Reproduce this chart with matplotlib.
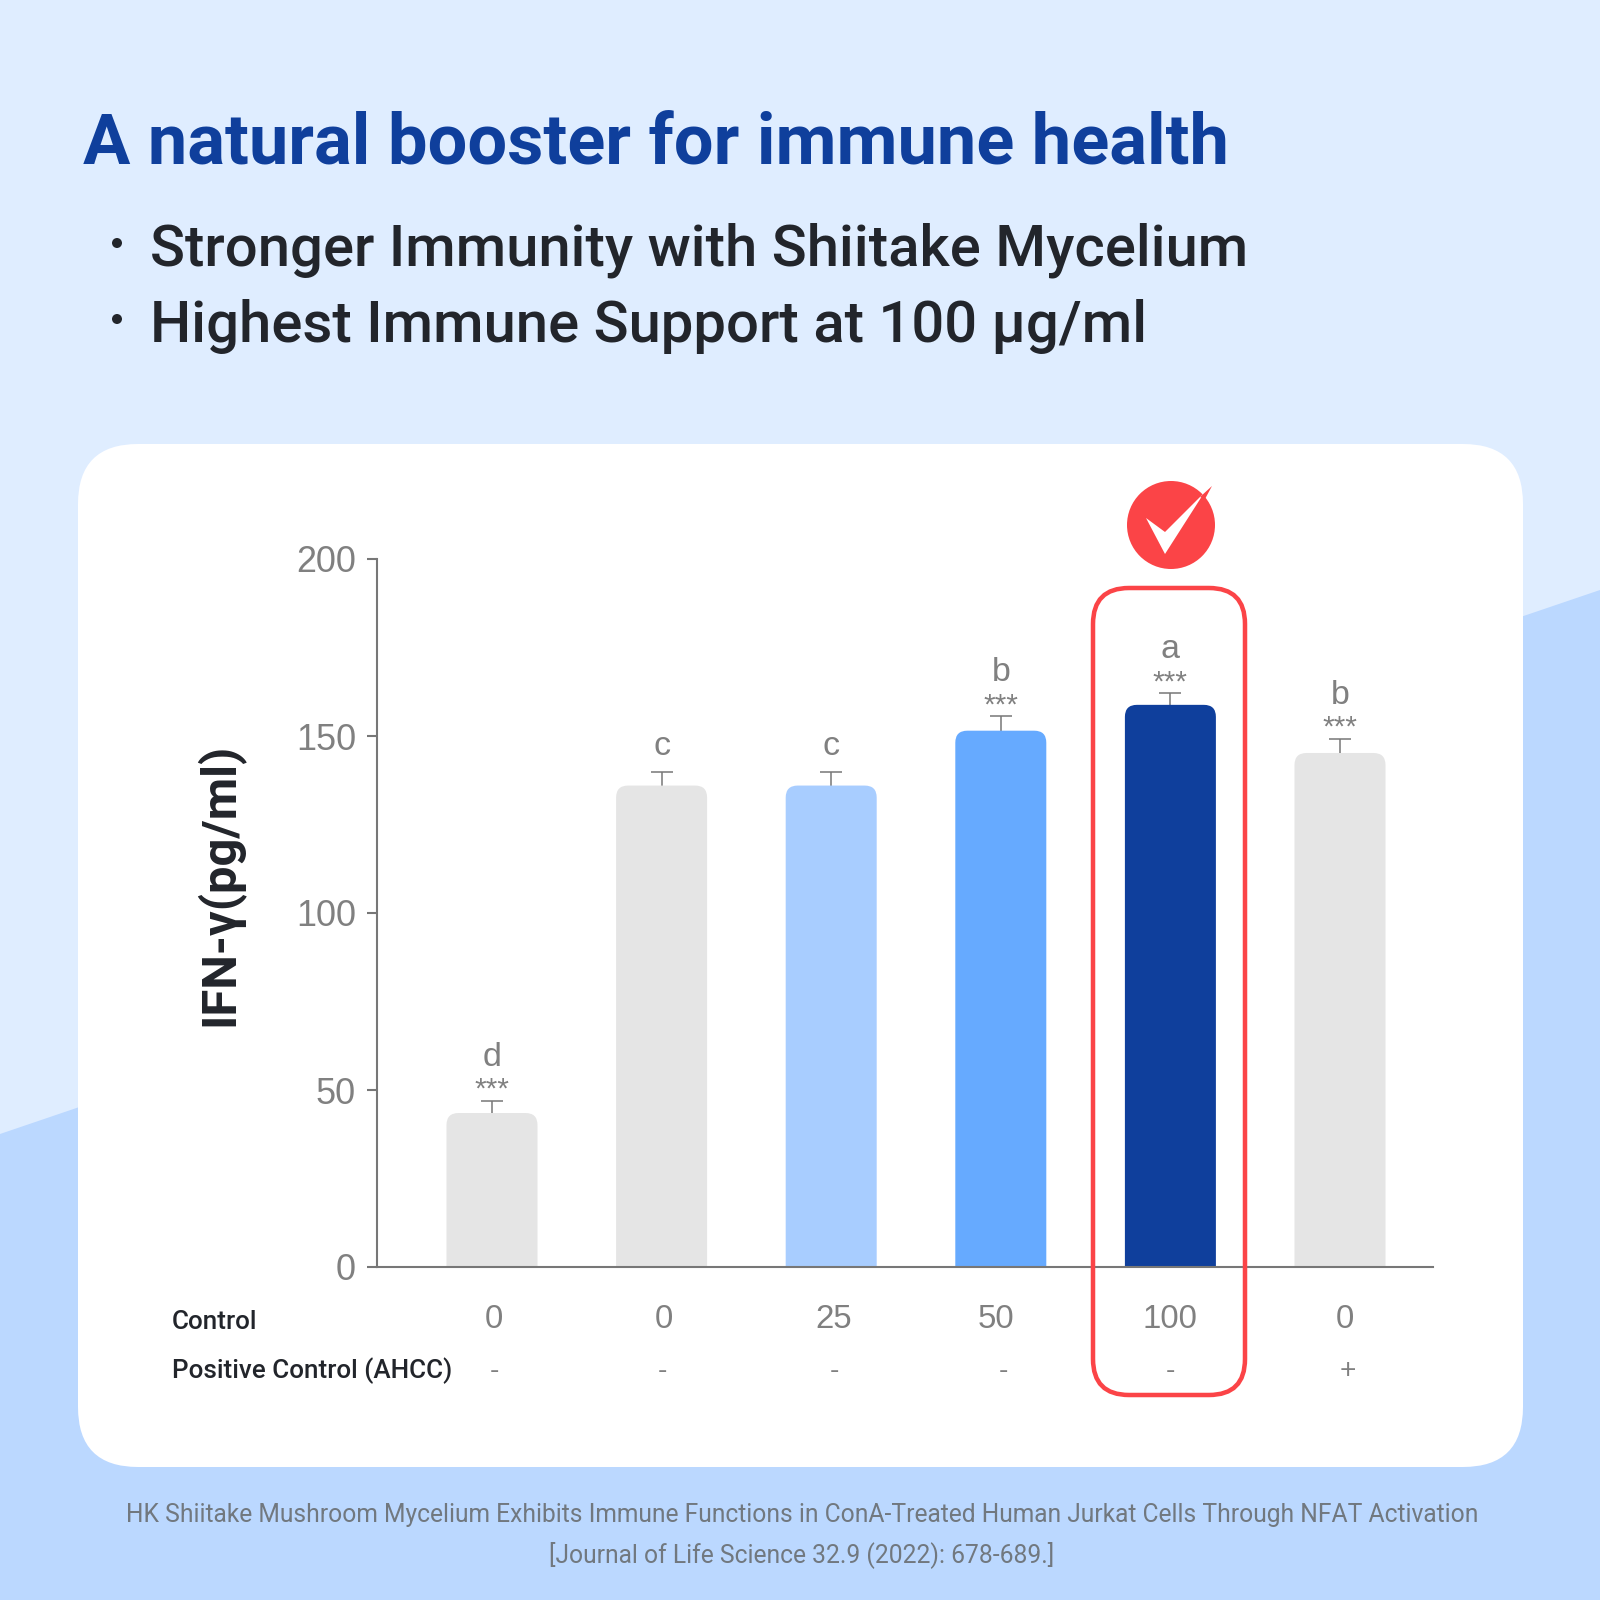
import matplotlib
matplotlib.use("Agg")
import matplotlib.pyplot as plt
from matplotlib.patches import FancyBboxPatch, Polygon, Circle

# --- Data ---
dose_labels = ["0", "0", "25", "50", "100", "0"]
ahcc_labels = ["-", "-", "-", "-", "-", "+"]
ifn_gamma = [43.5, 136, 136, 151.5, 158.8, 145.2]
error_top = [46.9, 139.7, 139.7, 155.6, 162.1, 149.2]
letters = ["d", "c", "c", "b", "a", "b"]
stars = ["***", "", "", "***", "***", "***"]
y_ticks = [0, 50, 100, 150, 200]

# --- Colours ---
bar_colors = ["#E5E5E5", "#E5E5E5", "#A8CDFF", "#66AAFF", "#0F3F9C", "#E5E5E5"]
BG_LIGHT = "#DFEDFF"
BG_DARK = "#BBD8FF"
RED = "#FB4447"
NAVY = "#0F3F9C"
INK = "#22252B"
GRAY = "#808080"
AXIS = "#777777"
SANS = "Liberation Sans"
HEAD = "Roboto"

W = H = 1600
px = 0.72  # one pixel in points at dpi=100

fig = plt.figure(figsize=(16, 16), dpi=100, facecolor=BG_LIGHT)

# Background layer, in pixel coordinates
bg = fig.add_axes([0, 0, 1, 1], zorder=0)
bg.set_xlim(0, W)
bg.set_ylim(H, 0)
bg.axis("off")
bg.add_patch(Polygon([(0, 1134), (1600, 590), (1600, 1600), (0, 1600)], fc=BG_DARK, ec="none"))
bg.add_patch(FancyBboxPatch((78 + 60, 444 + 60), 1445 - 120, 1023 - 120,
                            boxstyle="round,pad=60,rounding_size=60", fc="white", ec="none"))

# Heading text
bg.text(83, 163, "A natural booster for immune health", fontsize=70.4 * px, fontweight="bold",
        family=HEAD, color=NAVY, va="baseline")
for y, line in [(266, "Stronger Immunity with Shiitake Mycelium"),
                (342, "Highest Immune Support at 100 µg/ml")]:
    bg.add_patch(Circle((117, y - 23), 5, fc=INK, ec="none"))
    bg.text(150, y, line, fontsize=58 * px, fontweight="medium", family=HEAD, color=INK, va="baseline")

# Reference line at the bottom
bg.text(802, 1522, "HK Shiitake Mushroom Mycelium Exhibits Immune Functions in ConA-Treated Human Jurkat Cells Through NFAT Activation",
        fontsize=24.6 * px, family=HEAD, color="#71787F", ha="center", va="baseline")
bg.text(802, 1562, "[Journal of Life Science 32.9 (2022): 678-689.]",
        fontsize=24.6 * px, family=HEAD, color="#71787F", ha="center", va="baseline")

# --- Bar chart ---
ax = fig.add_axes([377 / W, (H - 1267) / H, (1433 - 377) / W, 708 / H], zorder=1)
ax.patch.set_alpha(0)
x_step = 169.6
ax.set_xlim((377 - 492) / x_step, (1433 - 492) / x_step)
ax.set_ylim(0, 200)
unit_y = 200 / 708
unit_x = 1 / x_step
half = 45.5 * unit_x
radius = 12 * unit_x

for i, (val, err, col) in enumerate(zip(ifn_gamma, error_top, bar_colors)):
    ax.plot([i, i], [val, err], color=AXIS, lw=1.1, zorder=1, solid_capstyle="butt")
    ax.plot([i - 11 * unit_x, i + 11 * unit_x], [err, err], color=AXIS, lw=1.1, zorder=1, solid_capstyle="butt")
    # square bottom comes from clipping the rounded box at y=0
    box = FancyBboxPatch((i - half + radius, -50), 2 * (half - radius), val + 50 - 12 * unit_y,
                         boxstyle=f"round,pad={radius},rounding_size={radius}",
                         mutation_aspect=unit_y / unit_x, fc=col, ec="none", zorder=2)
    ax.add_patch(box)
    if stars[i]:
        ax.text(i, err + 3 * unit_y, stars[i], fontsize=30 * px, family=SANS, color=GRAY, ha="center", va="baseline")
        ax.text(i, err + 35 * unit_y, letters[i], fontsize=34 * px, family=SANS, color=GRAY, ha="center", va="baseline")
    else:
        ax.text(i, err + 17 * unit_y, letters[i], fontsize=34 * px, family=SANS, color=GRAY, ha="center", va="baseline")

for side in ["top", "right"]:
    ax.spines[side].set_visible(False)
for side in ["left", "bottom"]:
    ax.spines[side].set_color(AXIS)
    ax.spines[side].set_linewidth(1.5)
ax.set_xticks([])
ax.set_yticks(y_ticks)
ax.tick_params(axis="y", length=10 * px, width=1.5, color=AXIS, labelcolor=GRAY, pad=11 * px, labelsize=36 * px)
for lab in ax.get_yticklabels():
    lab.set_family(SANS)

# Overlay layer: row labels, highlight frame and check badge
top = fig.add_axes([0, 0, 1, 1], zorder=2)
top.set_xlim(0, W)
top.set_ylim(H, 0)
top.axis("off")
top.patch.set_alpha(0)

top.text(219, 884, "IFN-γ(pg/ml)", rotation=90, fontsize=49 * px, fontweight="bold", family=HEAD,
         color=INK, ha="center", va="center")
top.text(172, 1329, "Control", fontsize=26 * px, fontweight="medium", family=HEAD, color=INK, va="baseline")
top.text(172, 1378, "Positive Control (AHCC)", fontsize=26 * px, fontweight="medium", family=HEAD, color=INK, va="baseline")

dose_shift = [2, 2, 2, -5, 0, 5]
ahcc_shift = [2, 1, 3, 3, 0, 8]
for i, (dose, ahcc) in enumerate(zip(dose_labels, ahcc_labels)):
    cx = 492 + x_step * i
    top.text(cx + dose_shift[i], 1328, dose, fontsize=33 * px, family=SANS, color=GRAY, ha="center", va="baseline")
    top.text(cx + ahcc_shift[i], 1378, ahcc, fontsize=28 * px, family=SANS, color=GRAY, ha="center", va="baseline")

top.add_patch(FancyBboxPatch((1093 + 36, 588 + 36), 152 - 72, 807 - 72,
                             boxstyle="round,pad=36,rounding_size=36", fc="none", ec=RED, lw=4.5 * px))
top.add_patch(Circle((1171, 525), 44, fc=RED, ec="none"))
top.add_patch(Polygon([(1146, 518), (1165, 532), (1204, 493), (1165, 554)], fc="white", ec="none"))
# the check's tip runs out past the badge in red
top.add_patch(Polygon([(1200, 497), (1212, 486), (1205, 499)], fc=RED, ec="none"))

fig.savefig("out.png", dpi=100, facecolor=fig.get_facecolor())
